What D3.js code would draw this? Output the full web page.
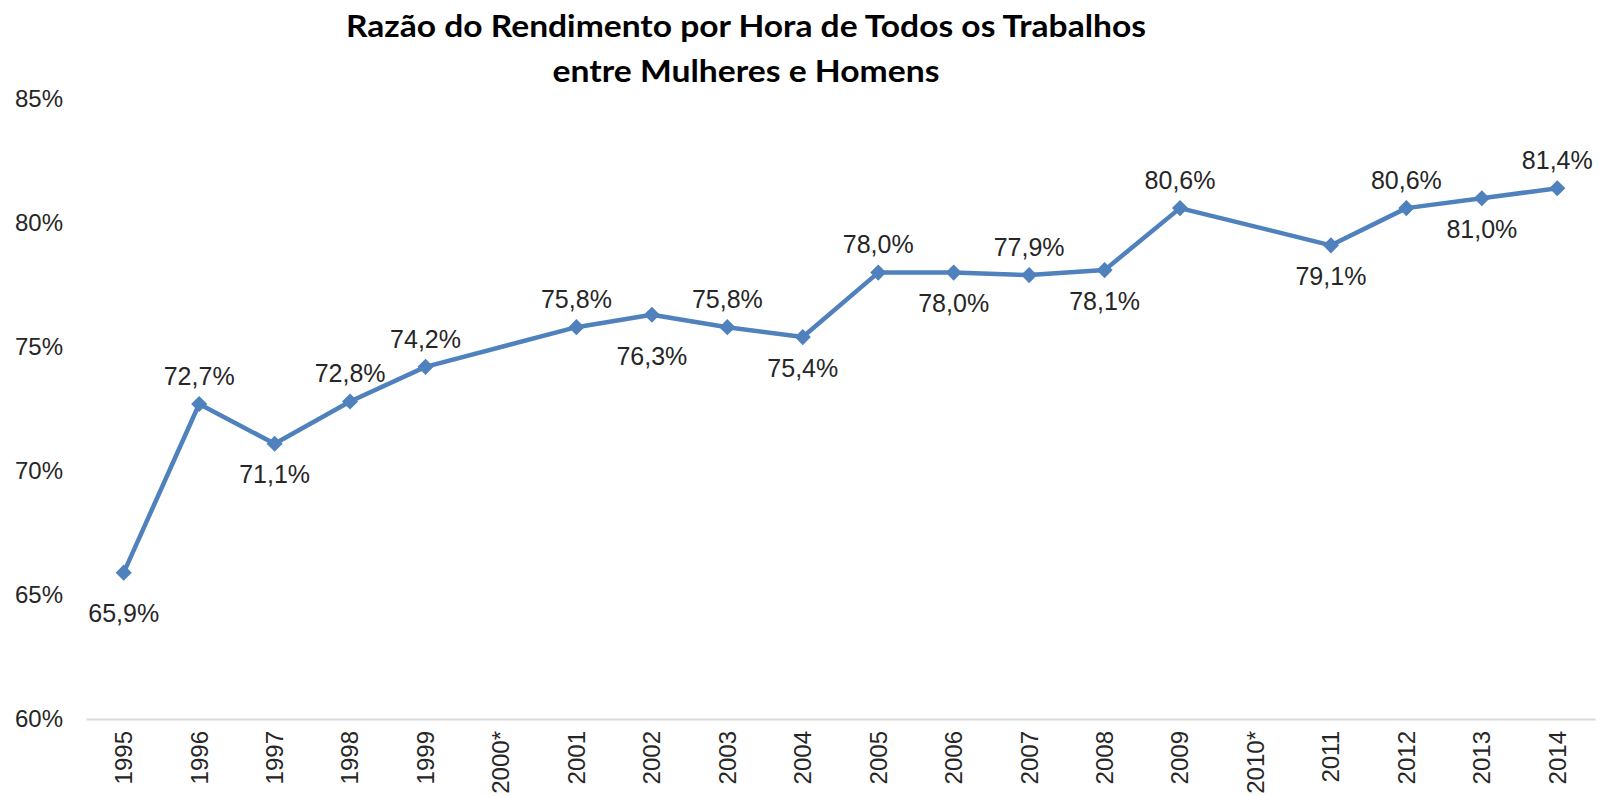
<!DOCTYPE html>
<html>
<head>
<meta charset="utf-8">
<script src="https://cdn.jsdelivr.net/npm/d3@7"></script>
<style>
  html, body { margin: 0; padding: 0; background: #fff; }
  svg { display: block; font-family: "Liberation Sans", Arial, sans-serif; }
</style>
</head>
<body>
<div id="chart"></div>
<script>
// Razão do rendimento por hora – mulheres / homens
const titleLines = ["Razão do Rendimento por Hora de Todos os Trabalhos", "entre Mulheres e Homens"];

const years  = ["1995", "1996", "1997", "1998", "1999", "2000*", "2001", "2002", "2003", "2004",
                "2005", "2006", "2007", "2008", "2009", "2010*", "2011", "2012", "2013", "2014"];
const values = [65.9, 72.7, 71.1, 72.8, 74.2, null, 75.8, 76.3, 75.8, 75.4,
                78.0, 78.0, 77.9, 78.1, 80.6, null, 79.1, 80.6, 81.0, 81.4];
// onde fica o rótulo de cada ponto (acima / abaixo / mais abaixo)
const labelSide = ["belowFar", "above", "below", "above", "above", null, "above", "belowFar", "above", "below",
                   "above", "below", "above", "below", "above", null, "below", "above", "below", "above"];
const yTicks = [60, 65, 70, 75, 80, 85];

/* ---------- helpers ---------- */
const fmtPct = v => d3.format(".1f")(v).replace(".", ",") + "%";
const fmtTick = v => v + "%";
const labelOffset = { above: -28, below: 31, belowFar: 41 };

const width = 1598, height = 796;
const margin = { top: 99, right: 3, bottom: 77, left: 86 };
const blue = "#4F81BD";
const textCol = "#262626";

const data = years.map((y, i) => ({ year: y, value: values[i], side: labelSide[i] }))
  .filter(d => d.value != null);

const x = d3.scaleBand()
  .domain(years)
  .range([margin.left, width - margin.right])
  .padding(0);

const y = d3.scaleLinear()
  .domain([60, 85])
  .range([height - margin.bottom, margin.top]);

const cx = d => x(d.year) + x.bandwidth() / 2;

const svg = d3.select("#chart").append("svg")
  .attr("width", width)
  .attr("height", height);

// Título
svg.append("g").selectAll("text")
  .data(titleLines).join("text")
  .attr("x", 746)
  .attr("y", (d, i) => 37 + i * 45)
  .attr("text-anchor", "middle")
  .attr("font-family", "Lato, 'Open Sans', sans-serif")
  .attr("font-weight", "bold")
  .attr("font-size", 30)
  .attr("fill", "#000")
  .attr("textLength", (d, i) => i === 0 ? 800 : 387)
  .attr("lengthAdjust", "spacingAndGlyphs")
  .text(d => d);

// Eixo Y (só rótulos)
svg.append("g")
  .attr("transform", `translate(${margin.left},0)`)
  .call(d3.axisLeft(y).tickValues(yTicks).tickFormat(fmtTick).tickSize(0).tickPadding(23))
  .call(g => g.select(".domain").remove())
  .call(g => g.selectAll("text")
    .attr("font-size", 24)
    .attr("font-family", "'Liberation Sans', Arial, sans-serif")
    .attr("fill", textCol));

// Eixo X
svg.append("g")
  .attr("transform", `translate(0,${y(60)})`)
  .call(d3.axisBottom(x).tickSize(0))
  .call(g => g.select(".domain").attr("stroke", "#d9d9d9").attr("stroke-width", 2))
  .call(g => g.selectAll("text")
    .attr("font-size", 24)
    .attr("font-family", "'Liberation Sans', Arial, sans-serif")
    .attr("fill", textCol)
    .attr("text-anchor", "end")
    .attr("dy", "0.35em")
    .attr("transform", "translate(0,12) rotate(-90)")
    .attr("x", 0).attr("y", 0));

// Linha (liga os pontos por cima dos anos sem dado)
const line = d3.line()
  .x(cx)
  .y(d => y(d.value));

svg.append("path")
  .datum(data)
  .attr("fill", "none")
  .attr("stroke", blue)
  .attr("stroke-width", 4.5)
  .attr("stroke-linejoin", "round")
  .attr("d", line);

// Marcadores (losangos)
svg.append("g").selectAll("path")
  .data(data).join("path")
  .attr("transform", d => `translate(${cx(d)},${y(d.value)}) rotate(45)`)
  .attr("d", d3.symbol(d3.symbolSquare, 130))
  .attr("fill", blue);

// Rótulos de valor
svg.append("g").selectAll("text")
  .data(data).join("text")
  .attr("x", cx)
  .attr("y", d => y(d.value) + labelOffset[d.side])
  .attr("dy", "0.35em")
  .attr("text-anchor", "middle")
  .attr("font-size", 25)
  .attr("fill", textCol)
  .text(d => fmtPct(d.value));
</script>
</body>
</html>
